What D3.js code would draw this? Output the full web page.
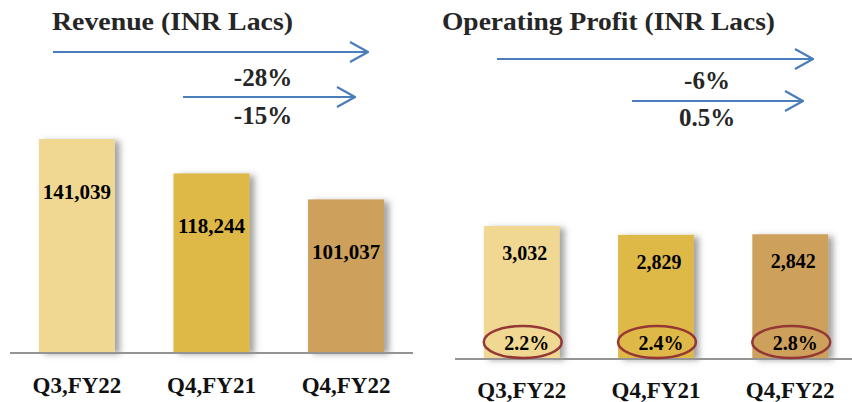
<!DOCTYPE html>
<html>
<head>
<meta charset="utf-8">
<script src="https://cdn.jsdelivr.net/npm/d3@7"></script>
<style>
  body { margin: 0; background: #fff; }
  svg { display: block; }
  text { font-family: "Liberation Serif", "DejaVu Serif", serif; font-weight: bold; fill: #262626; }
</style>
</head>
<body>
<svg id="chart" width="852" height="402"></svg>
<script>
// Datos
const categorias = ["Q3,FY22", "Q4,FY21", "Q4,FY22"];
const ingresos = [141039, 118244, 101037];
const beneficio = [3032, 2829, 2842];
const margen = ["2.2%", "2.4%", "2.8%"];
const colores = ["#F0D893", "#DFB946", "#CDA05B"];
const cambiosIngresos = ["-28%", "-15%"];
const cambiosBeneficio = ["-6%", "0.5%"];

const svg = d3.select("#chart");
const fmt = d3.format(",");

// Sombra a la derecha de las barras
const defs = svg.append("defs");
const f = defs.append("filter").attr("id", "sombra")
    .attr("x", "-10%").attr("y", "-10%").attr("width", "140%").attr("height", "120%");
f.append("feDropShadow").attr("dx", 5).attr("dy", 2).attr("stdDeviation", 3)
    .attr("flood-color", "#555").attr("flood-opacity", 0.55);

// Marcador de flecha abierta
defs.append("marker").attr("id", "flecha")
    .attr("viewBox", "0 0 20 24").attr("refX", 19).attr("refY", 12)
    .attr("markerWidth", 20).attr("markerHeight", 24)
    .attr("markerUnits", "userSpaceOnUse").attr("orient", "auto")
    .append("path").attr("d", "M1,2 L19,12 L1,22")
    .attr("fill", "none").attr("stroke", "#4A7EBB").attr("stroke-width", 2.2);

function panel(cfg) {
    const g = svg.append("g");
    const x = d3.scaleBand().domain(categorias).range(cfg.rangoX)
        .paddingInner(0.435).paddingOuter(0.2);
    const y = d3.scaleLinear().domain([0, cfg.maxY]).range([cfg.base, cfg.top]);

    // Titulo (ancho ajustado al original)
    g.append("text").attr("x", cfg.tituloX).attr("y", 30)
        .attr("font-size", 26)
        .attr("textLength", cfg.tituloAncho).attr("lengthAdjust", "spacingAndGlyphs")
        .text(cfg.titulo);

    // Flechas de variacion
    cfg.flechas.forEach((a, i) => {
        g.append("line").attr("x1", a[0]).attr("x2", a[1]).attr("y1", a[2]).attr("y2", a[2])
            .attr("stroke", "#4A7EBB").attr("stroke-width", 2.2)
            .attr("marker-end", "url(#flecha)");
        g.append("text").attr("x", cfg.cambioX).attr("y", a[3])
            .attr("text-anchor", "middle").attr("dominant-baseline", "central")
            .attr("font-size", 25).text(cfg.cambios[i]);
    });

    // Barras
    g.selectAll("rect.barra").data(cfg.valores).join("rect")
        .attr("class", "barra")
        .attr("x", (d, i) => x(categorias[i]))
        .attr("y", d => y(d))
        .attr("width", x.bandwidth())
        .attr("height", d => cfg.base - y(d))
        .attr("fill", (d, i) => colores[i])
        .attr("filter", "url(#sombra)");

    // Linea base
    g.append("line").attr("x1", cfg.ejeX[0]).attr("x2", cfg.ejeX[1])
        .attr("y1", cfg.base + 1).attr("y2", cfg.base + 1)
        .attr("stroke", "#949494").attr("stroke-width", 2);

    // Valores
    g.selectAll("text.valor").data(cfg.valores).join("text")
        .attr("class", "valor")
        .attr("x", (d, i) => x(categorias[i]) + x.bandwidth() / 2 + cfg.valorDx)
        .attr("y", d => y(d) + cfg.valorDy)
        .attr("text-anchor", "middle").attr("dominant-baseline", "central")
        .attr("font-size", cfg.valorSize).style("fill", "#000")
        .text(d => fmt(d));

    // Categorias
    g.selectAll("text.cat").data(categorias).join("text")
        .attr("class", "cat")
        .attr("x", d => x(d) + x.bandwidth() / 2)
        .attr("y", cfg.catY)
        .attr("text-anchor", "middle").attr("dominant-baseline", "central")
        .attr("font-size", 23).style("fill", "#111")
        .text(d => d);
    return x;
}

panel({
    titulo: "Revenue (INR Lacs)", tituloX: 52, tituloAncho: 241,
    rangoX: [12, 411], ejeX: [10, 413], base: 352, top: 139, maxY: ingresos[0],
    valores: ingresos, valorDx: 0, valorDy: 53, valorSize: 21, catY: 385,
    flechas: [[53, 368, 52, 77], [183, 355, 97, 115]], cambios: cambiosIngresos, cambioX: 263
});

const xDer = panel({
    titulo: "Operating Profit (INR Lacs)", tituloX: 442, tituloAncho: 333,
    rangoX: [457, 855], ejeX: [455, 852], base: 358, top: 226, maxY: beneficio[0],
    valores: beneficio, valorDx: 3, valorDy: 27, valorSize: 20, catY: 390,
    flechas: [[497, 813, 59, 80], [632, 803, 101, 117]], cambios: cambiosBeneficio, cambioX: 707
});

// Margenes en elipses
const gm = svg.append("g");
gm.selectAll("ellipse").data(margen).join("ellipse")
    .attr("cx", (d, i) => xDer(categorias[i]) + xDer.bandwidth() / 2 + 1)
    .attr("cy", 342).attr("rx", 39).attr("ry", 16)
    .attr("fill", "none").attr("stroke", "#953735").attr("stroke-width", 2.5);
gm.selectAll("text").data(margen).join("text")
    .attr("x", (d, i) => xDer(categorias[i]) + xDer.bandwidth() / 2 + 5)
    .attr("y", 343)
    .attr("text-anchor", "middle").attr("dominant-baseline", "central")
    .attr("font-size", 20).style("fill", "#000")
    .text(d => d);
</script>
</body>
</html>
